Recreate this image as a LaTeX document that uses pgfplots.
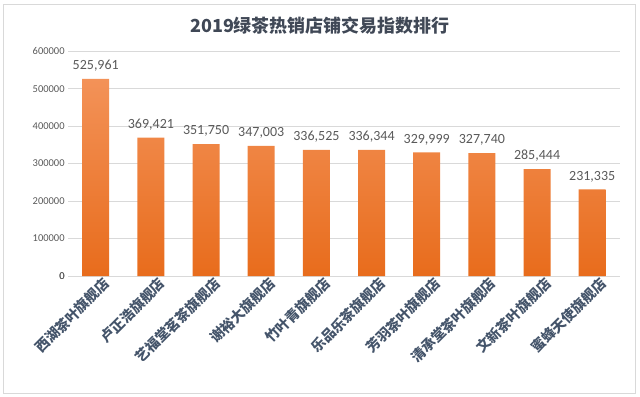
\documentclass[border=0pt]{standalone}
\usepackage{pgfplots}
\pgfplotsset{compat=1.18}
\usepackage{fontspec}
\setmainfont{Carlito}
\newfontfamily\cjk{Noto Sans CJK SC}
\definecolor{gridc}{RGB}{217,217,217}
\definecolor{titlec}{RGB}{64,72,86}
\definecolor{labc}{RGB}{68,84,106}
\definecolor{tickc}{RGB}{89,89,89}
\definecolor{topc}{RGB}{243,146,88}
\definecolor{botc}{RGB}{232,108,28}
\begin{document}
\begin{tikzpicture}[x=1pt,y=1pt]
\draw[white] (0,0) rectangle (640,396);
\draw[gridc, line width=0.8pt] (3,3) rectangle (636,392);
\node[font=\cjk\bfseries\fontsize{18}{18}\selectfont, text=titlec] at (320,371) {2019绿茶热销店铺交易指数排行};
\begin{axis}[
  at={(68pt,120pt)}, anchor=south west,
  scale only axis, width=552pt, height=225pt,
  ybar, bar width=27pt,
  xmin=-0.5, xmax=9.5, ymin=0, ymax=600000,
  xtick={0,...,9},
  xticklabels={西湖茶叶旗舰店,卢正浩旗舰店,艺福堂茗茶旗舰店,谢裕大旗舰店,竹叶青旗舰店,乐品乐茶旗舰店,芳羽茶叶旗舰店,清承堂茶叶旗舰店,文新茶叶旗舰店,蜜蜂天使旗舰店},
  xticklabel style={font=\cjk\bfseries\fontsize{14}{14}\selectfont, text=labc, xshift=12pt, yshift=-4pt, rotate=45, anchor=east, inner sep=1pt},
  ytick={0,100000,...,600000},
  scaled y ticks=false,
  yticklabel style={font=\fontsize{10.5}{10.5}\selectfont, text=tickc, /pgf/number format/fixed, /pgf/number format/1000 sep={}, /pgf/number format/assume math mode=true},
  ymajorgrids, grid style={gridc, line width=0.8pt},
  axis line style={draw=none},
  major tick length=0pt,
  extra y ticks={0}, extra y tick style={grid style={gridc, line width=1pt}},
  nodes near coords,
  every node near coord/.append style={font=\fontsize{14}{14}\selectfont, text=tickc, /pgf/number format/fixed, /pgf/number format/precision=0, /pgf/number format/1000 sep={,}, /pgf/number format/assume math mode=true, yshift=4pt},
  clip=false,
]
\addplot[draw=none, top color=topc, bottom color=botc, shading angle=0] coordinates {
(0,525961) (1,369421) (2,351750) (3,347003) (4,336525) (5,336344) (6,329999) (7,327740) (8,285444) (9,231335)};
\end{axis}
\end{tikzpicture}
\end{document}
